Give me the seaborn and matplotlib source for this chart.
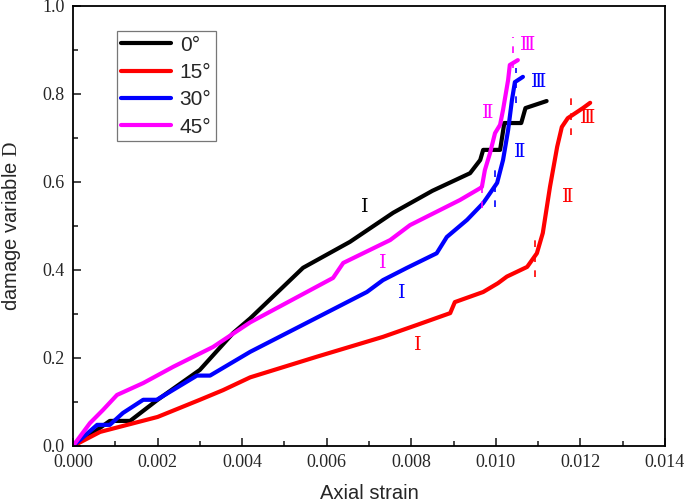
import numpy as np
import pandas as pd
import matplotlib
matplotlib.use("Agg")
import matplotlib.pyplot as plt
import seaborn as sns
from matplotlib.ticker import MultipleLocator, FormatStrFormatter
from matplotlib.lines import Line2D

# ---- data ----
labels = ["0°", "15°", "30°", "45°"]
colors = ["#000000", "#ff0000", "#0000ff", "#ff00ff"]

strain_0 = [0.0, 0.0004, 0.00087, 0.00135, 0.002, 0.003, 0.00379, 0.00419, 0.00544, 0.00655,
            0.00757, 0.0085, 0.00939, 0.00963, 0.0097, 0.0101, 0.0102, 0.0106, 0.0107, 0.0112]
damage_0 = [0.0, 0.025, 0.057, 0.057, 0.105, 0.173, 0.257, 0.29, 0.405, 0.464,
            0.53, 0.58, 0.62, 0.65, 0.673, 0.673, 0.734, 0.734, 0.768, 0.784]

strain_15 = [0.0, 0.00064, 0.002, 0.003, 0.00355, 0.00419, 0.00577, 0.00733, 0.00813, 0.00892,
             0.00903, 0.0097, 0.01005, 0.01026, 0.01074, 0.01097, 0.01111, 0.01128, 0.01145,
             0.01156, 0.0117, 0.01206, 0.01223]
damage_15 = [0.0, 0.032, 0.066, 0.105, 0.127, 0.156, 0.203, 0.248, 0.275, 0.302,
             0.327, 0.35, 0.37, 0.385, 0.407, 0.438, 0.484, 0.589, 0.68,
             0.725, 0.745, 0.768, 0.78]

strain_30 = [0.0, 0.00057, 0.00087, 0.00118, 0.00166, 0.00198, 0.00293, 0.00324, 0.00419,
             0.00695, 0.00733, 0.0079, 0.0086, 0.00884, 0.00932, 0.0097, 0.01003, 0.01017,
             0.01029, 0.01038, 0.01045, 0.01064]
damage_30 = [0.0, 0.048, 0.048, 0.075, 0.105, 0.105, 0.16, 0.16, 0.214,
             0.35, 0.377, 0.405, 0.438, 0.475, 0.514, 0.552, 0.598, 0.65,
             0.718, 0.786, 0.827, 0.839]

strain_45 = [0.0, 0.0004, 0.00071, 0.00104, 0.00166, 0.00237, 0.00331, 0.00419, 0.00615,
             0.00639, 0.0075, 0.00797, 0.00915, 0.00963, 0.00967, 0.00974, 0.00986, 0.00998,
             0.0101, 0.01017, 0.01029, 0.01033, 0.01052]
damage_45 = [0.0, 0.052, 0.082, 0.116, 0.143, 0.18, 0.225, 0.281, 0.382,
             0.416, 0.468, 0.502, 0.559, 0.586, 0.589, 0.627, 0.665, 0.711,
             0.73, 0.764, 0.832, 0.866, 0.877]

# stage annotations: text, x, y, series index
stage_text = ["Ⅰ", "Ⅰ", "Ⅰ", "Ⅰ", "Ⅱ", "Ⅱ", "Ⅱ", "Ⅲ", "Ⅲ", "Ⅲ"]
stage_x = [0.0069, 0.00733, 0.00778, 0.00816, 0.0098, 0.01057, 0.0117, 0.01074, 0.01102, 0.01218]
stage_y = [0.543, 0.416, 0.348, 0.23, 0.757, 0.668, 0.566, 0.911, 0.827, 0.745]
stage_series = [0, 3, 2, 1, 3, 2, 1, 3, 2, 1]

# dashed stage boundaries: x, y0, y1, series index
bound_x = [0.00967, 0.0104, 0.00998, 0.01048, 0.01093, 0.01178]
bound_y0 = [0.541, 0.86, 0.543, 0.78, 0.384, 0.707]
bound_y1 = [0.598, 0.93, 0.627, 0.86, 0.473, 0.79]
bound_series = [3, 3, 2, 2, 1, 1]

frames = []
for lab, xs, ys in zip(labels,
                       [strain_0, strain_15, strain_30, strain_45],
                       [damage_0, damage_15, damage_30, damage_45]):
    frames.append(pd.DataFrame({"strain": xs, "D": ys, "angle": lab}))
df = pd.concat(frames, ignore_index=True)

sns.set_style("ticks")
plt.rcParams["font.family"] = ["Liberation Sans", "DejaVu Sans"]
plt.rcParams["mathtext.fontset"] = "custom"
plt.rcParams["mathtext.rm"] = "Liberation Serif"

fig = plt.figure(figsize=(6.85, 5.04), dpi=100)
ax = fig.add_axes([0.1066, 0.1151, 0.8642, 0.873])

sns.lineplot(data=df, x="strain", y="D", hue="angle", hue_order=labels,
             palette=colors, sort=False, estimator=None, units="angle",
             linewidth=3.0, ax=ax, legend=False)

for t, x, y, s in zip(stage_text, stage_x, stage_y, stage_series):
    ax.text(x, y, t, color=colors[s], fontsize=14,
            family=["DejaVu Serif", "Noto Sans CJK SC"],
            ha="center", va="center")

for x, y0, y1, s in zip(bound_x, bound_y0, bound_y1, bound_series):
    ax.plot([x, x], [y0, y1], color=colors[s], linestyle=(0, (4, 5)), linewidth=1.2)

ax.set_xlim(0, 0.014)
ax.set_ylim(0, 1.0)
ax.xaxis.set_major_locator(MultipleLocator(0.002))
ax.xaxis.set_minor_locator(MultipleLocator(0.001))
ax.yaxis.set_major_locator(MultipleLocator(0.2))
ax.yaxis.set_minor_locator(MultipleLocator(0.1))
ax.xaxis.set_major_formatter(FormatStrFormatter("%.3f"))
ax.yaxis.set_major_formatter(FormatStrFormatter("%.1f"))
ax.tick_params(which="both", direction="in", top=False, right=False, width=1.2)
ax.tick_params(which="major", length=6, labelsize=13, pad=6)
ax.tick_params(which="minor", length=3.5)
for lab in ax.get_xticklabels() + ax.get_yticklabels():
    lab.set_family("Liberation Serif")
for sp in ax.spines.values():
    sp.set_visible(True)
    sp.set_linewidth(1.3)
    sp.set_color("black")

ax.set_xlabel("Axial strain", fontsize=14.5, labelpad=9)
ax.set_ylabel("damage variable $\\mathrm{D}$", fontsize=14.5, labelpad=14)

handles = [Line2D([0], [0], color=c, lw=3.0) for c in colors]
leg = ax.legend(handles, labels, loc="upper left", bbox_to_anchor=(0.074, 0.943),
                fontsize=15, frameon=True, fancybox=False, handlelength=2.4,
                handletextpad=0.4, labelspacing=0.4, borderpad=0.22, borderaxespad=0)
leg.get_frame().set_edgecolor("#555555")
leg.get_frame().set_linewidth(0.9)

fig.savefig("out.png", dpi=100)
